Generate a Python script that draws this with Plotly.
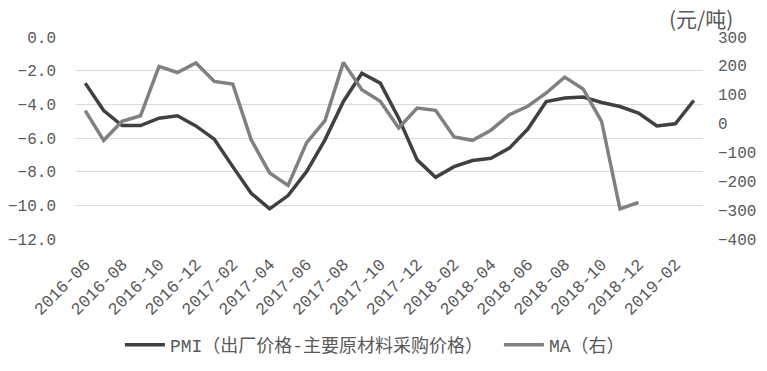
import plotly.graph_objects as go

months = ["2016-06", "2016-07", "2016-08", "2016-09", "2016-10", "2016-11", "2016-12",
          "2017-01", "2017-02", "2017-03", "2017-04", "2017-05", "2017-06", "2017-07",
          "2017-08", "2017-09", "2017-10", "2017-11", "2017-12", "2018-01", "2018-02",
          "2018-03", "2018-04", "2018-05", "2018-06", "2018-07", "2018-08", "2018-09",
          "2018-10", "2018-11", "2018-12", "2019-01", "2019-02", "2019-03"]

pmi = [-2.74, -4.37, -5.26, -5.26, -4.82, -4.68, -5.28, -6.07, -7.7, -9.28, -10.21,
       -9.42, -8.0, -6.11, -3.83, -2.15, -2.74, -4.82, -7.3, -8.33, -7.7, -7.34, -7.2,
       -6.6, -5.47, -3.83, -3.63, -3.57, -3.89, -4.13, -4.52, -5.28, -5.16, -3.77]

ma = [45, -58, 8, 27, 198, 177, 210, 146, 137, -56, -171, -214, -67, 10, 212, 117,
      77, -15, 54, 46, -46, -58, -23, 31, 60, 106, 161, 120, 8, -296, -273]

tick_labels = months[::2]

font_main = "Liberation Mono, Noto Sans CJK SC, monospace"
txt = "#595959"
pad = "\u00a0"

fig = go.Figure()
fig.add_trace(go.Scatter(x=months, y=pmi, mode="lines",
                         name="PMI（出厂价格-主要原材料采购价格）" + pad,
                         line=dict(color="#404040", width=3.5)))
fig.add_trace(go.Scatter(x=months[:len(ma)], y=ma, mode="lines",
                         name="MA（右）", yaxis="y2",
                         line=dict(color="#808080", width=3.5)))

# page body has an 8px margin, so the figure is 16px smaller than the window
fig.update_layout(
    width=751, height=355,
    margin=dict(l=68, r=56, t=29, b=124, autoexpand=False),
    paper_bgcolor="white", plot_bgcolor="white",
    font=dict(family=font_main, size=16, color=txt),
    showlegend=True,
    legend=dict(orientation="h", x=0.07, xanchor="left", y=-0.525, yanchor="middle",
                font=dict(size=18, color=txt), itemwidth=40),
    xaxis=dict(type="category", categoryarray=months, range=[-0.5, 33.5],
               tickvals=tick_labels, ticktext=tick_labels, tickangle=-45,
               showgrid=False, showline=False, ticks="", zeroline=False,
               automargin=False, ticklabelstandoff=11,
               tickfont=dict(size=17, color=txt)),
    yaxis=dict(range=[-12, 0], dtick=2, tickformat=".1f", showgrid=True,
               gridcolor="#d9d9d9", gridwidth=1, zeroline=False, ticks="",
               automargin=False, ticklabelstandoff=19,
               tickfont=dict(size=16, color=txt)),
    yaxis2=dict(range=[-400, 300], dtick=100, overlaying="y", side="right",
                showgrid=False, zeroline=False, ticks="", automargin=False,
                ticklabelstandoff=14, tickfont=dict(size=16, color=txt)),
    annotations=[dict(text="(元/吨)", xref="paper", yref="paper", x=0.997, y=1.094,
                      xanchor="center", yanchor="middle", showarrow=False,
                      font=dict(size=21, color=txt, family="Noto Sans CJK SC"))],
)

fig.write_html("out.html", config={"displayModeBar": False})
